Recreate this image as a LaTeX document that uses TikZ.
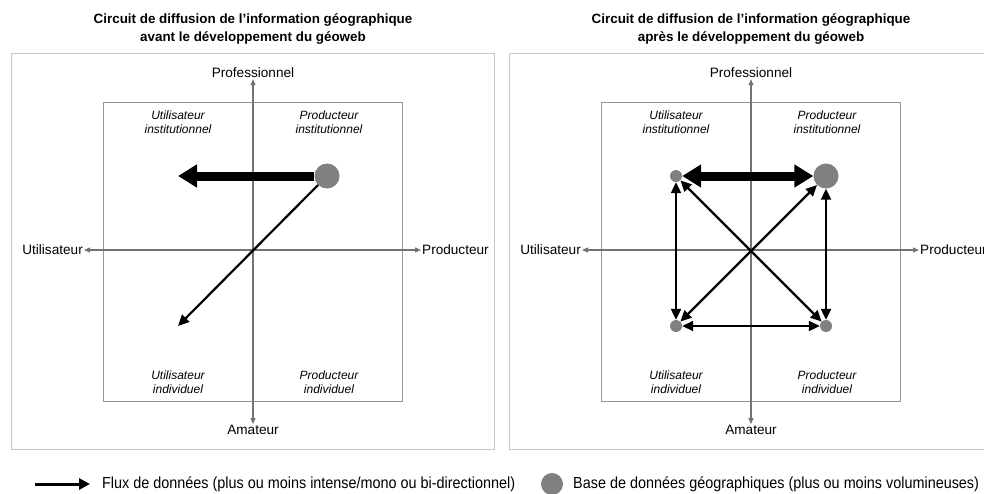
\documentclass[tikz,border=0pt]{standalone}
\usepackage{fontspec}
\setmainfont{Liberation Sans}
\newfontfamily\legfont[FakeStretch=0.9]{Liberation Sans}
\usetikzlibrary{arrows.meta}
\tikzset{
  outerbox/.style={draw=black!22, line width=1pt},
  innerbox/.style={draw=black!42, line width=1pt},
  axis/.style={draw=black!55, line width=1.2pt, -{Triangle[length=6pt,width=5pt]}},
  axlabel/.style={font=\fontsize{13.6}{15}\selectfont, inner sep=1pt},
  quad/.style={font=\fontsize{12}{14.5}\selectfont\itshape, align=center, inner sep=0pt},
  ttl/.style={font=\fontsize{13.4}{18}\selectfont\bfseries, align=center, inner sep=0pt},
  db/.style={circle, fill=black!50, inner sep=0pt},
  bigdb/.style={db, minimum size=25pt},
  smalldb/.style={db, minimum size=12pt},
  heavy/.style={line width=9pt, -{Triangle[length=19pt,width=22pt]}},
  heavytwo/.style={line width=9pt, {Triangle[length=19pt,width=22pt]}-{Triangle[length=19pt,width=22pt]}},
  flow/.style={line width=2.2pt, -{Triangle[length=11pt,width=10pt]}},
  flowtwo/.style={line width=2.2pt, {Triangle[length=11pt,width=10pt]}-{Triangle[length=11pt,width=10pt]}},
  legtext/.style={font=\legfont\fontsize{16}{18}\selectfont, inner sep=0pt, anchor=west},
}
\begin{document}
\begin{tikzpicture}[x=1pt,y=-1pt]
\useasboundingbox (0,0) rectangle (984,493);
\fill[white] (0,0) rectangle (984,493);

% ---------- left panel ----------
\node[ttl] (Ltitle) at (253,29) {Circuit de diffusion de l’information géographique\\avant le développement du géoweb};
\draw[outerbox] (11,53) rectangle (494,449);
\draw[innerbox] (103,102) rectangle (402,401);
\coordinate (Lc) at (253,250);
\node[axlabel] (Lpro) at (253,73) {Professionnel};
\node[axlabel] (Lama) at (253,430) {Amateur};
\node[axlabel, anchor=east] (Luti) at (84,250) {Utilisateur};
\node[axlabel, anchor=west] (Lprod) at (421,250) {Producteur};
\draw[axis] (Lc) -- (Lpro.south);
\draw[axis] (Lc) -- (Lama.north);
\draw[axis] (Lc) -- (Luti.east);
\draw[axis] (Lc) -- (Lprod.west);
\node[quad] (Lq1) at (178,122) {Utilisateur\\institutionnel};
\node[quad] (Lq2) at (329,122) {Producteur\\institutionnel};
\node[quad] (Lq3) at (178,382) {Utilisateur\\individuel};
\node[quad] (Lq4) at (329,382) {Producteur\\individuel};
\node[bigdb] (Lbig) at (327,176) {};
\coordinate (Lhe) at (178,176);
\coordinate (Lte) at (178,326);
\draw[heavy] (Lbig) -- (Lhe);
\draw[flow] (Lbig) -- (Lte);

% ---------- right panel ----------
\node[ttl] (Rtitle) at (751,29) {Circuit de diffusion de l’information géographique\\après le développement du géoweb};
\draw[outerbox] (509,53) rectangle (992,449);
\draw[innerbox] (601,102) rectangle (900,401);
\coordinate (Rc) at (751,250);
\node[axlabel] (Rpro) at (751,73) {Professionnel};
\node[axlabel] (Rama) at (751,430) {Amateur};
\node[axlabel, anchor=east] (Ruti) at (582,250) {Utilisateur};
\node[axlabel, anchor=west] (Rprod) at (919,250) {Producteur};
\draw[axis] (Rc) -- (Rpro.south);
\draw[axis] (Rc) -- (Rama.north);
\draw[axis] (Rc) -- (Ruti.east);
\draw[axis] (Rc) -- (Rprod.west);
\node[quad] (Rq1) at (676,122) {Utilisateur\\institutionnel};
\node[quad] (Rq2) at (827,122) {Producteur\\institutionnel};
\node[quad] (Rq3) at (676,382) {Utilisateur\\individuel};
\node[quad] (Rq4) at (827,382) {Producteur\\individuel};
\node[bigdb] (Rbig) at (826,176) {};
\node[smalldb] (Rtl) at (676,176) {};
\node[smalldb] (Rbl) at (676,326) {};
\node[smalldb] (Rbr) at (826,326) {};
\draw[heavytwo] (Rtl) -- (Rbig);
\draw[flowtwo] (Rtl) -- (Rbl);
\draw[flowtwo] (Rbig) -- (Rbr);
\draw[flowtwo] (Rtl) -- (Rbr);
\draw[flowtwo] (Rbl) -- (Rbig);
\draw[flowtwo, line width=1.8pt] (Rbl) -- (Rbr);

% ---------- legend ----------
\coordinate (La) at (35,484);
\coordinate (Lb) at (90,484);
\draw[line width=3pt, -{Triangle[length=11pt,width=11pt]}] (La) -- (Lb);
\node[legtext] (Lt1) at (102,484) {Flux de données (plus ou moins intense/mono ou bi-directionnel)};
\node[db, minimum size=22pt] (Ldb) at (552,484) {};
\node[legtext] (Lt2) at (573,484) {Base de données géographiques (plus ou moins volumineuses)};
\end{tikzpicture}
\end{document}
